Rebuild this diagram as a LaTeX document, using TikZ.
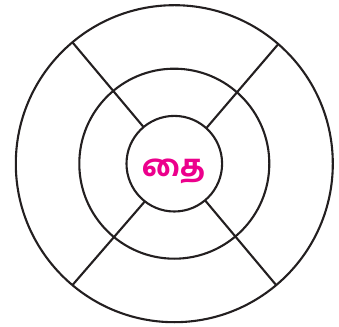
\documentclass[tikz,border=0pt]{standalone}
\usepackage{fontspec}
\usetikzlibrary{calc}
\newfontfamily\tamilfont[Script=Tamil,BoldFont={Hind Madurai Bold}]{Hind Madurai}
\definecolor{ringline}{HTML}{231F20}
\definecolor{thaipink}{HTML}{EC008C}
\tikzset{ring/.style={draw=ringline,line width=2.1pt}}
\begin{document}
\begin{tikzpicture}[x=1pt,y=1pt]
  \useasboundingbox (0,0) rectangle (339,326);
  \coordinate (O) at (174.3,162.3);
  % three circles
  \draw[ring] (O) circle (158.5);
  \draw[ring] (O) circle (95);
  \draw[ring] (O) circle (47.8);
  % four spokes from inner circle to outer circle
  \draw[ring] ($(O)+(130:47.8)$) -- ($(O)+(130:158.5)$);
  \draw[ring] ($(O)+(48:47.8)$) -- ($(O)+(49:158.5)$);
  \draw[ring] ($(O)+(232:47.8)$) -- ($(O)+(230:158.5)$);
  \draw[ring] ($(O)+(310:47.8)$) -- ($(O)+(310:158.5)$);
  % month name in the centre
  \node[text=thaipink,font=\tamilfont\bfseries\fontsize{30}{33}\selectfont] (thai) at (173.5,154.5) {தை};
\end{tikzpicture}
\end{document}
